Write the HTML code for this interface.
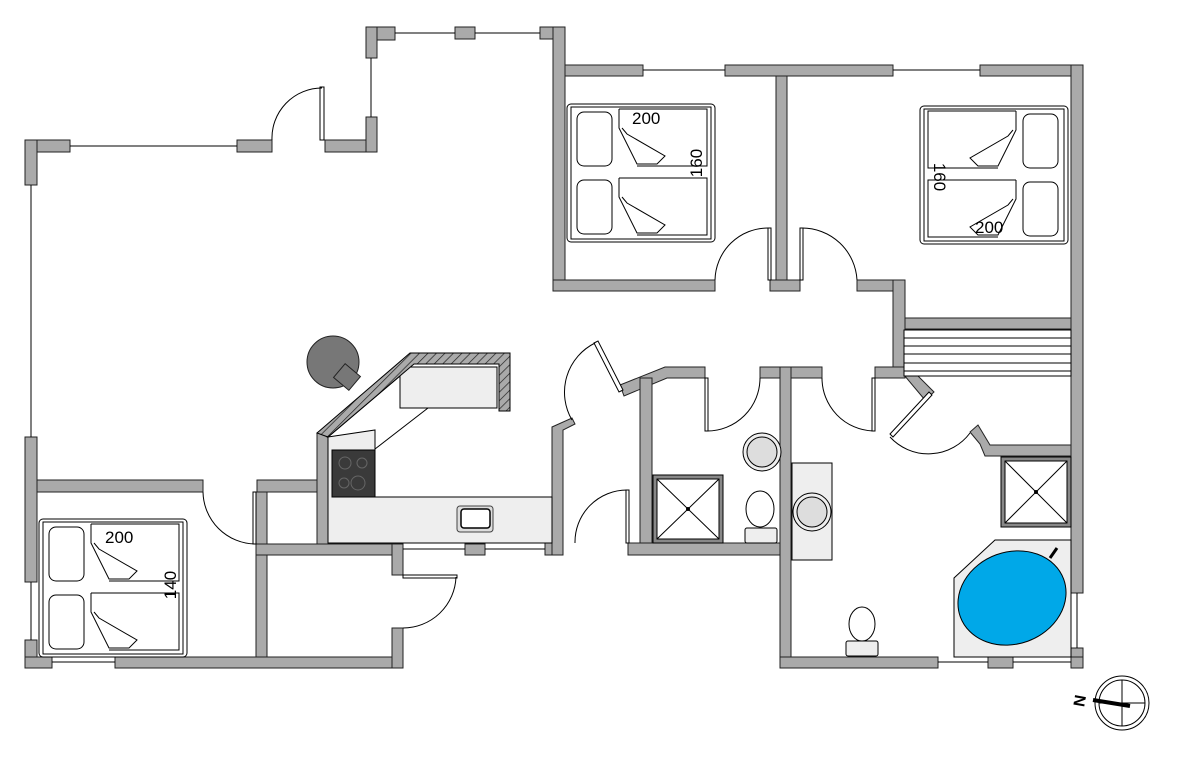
<!DOCTYPE html>
<html><head><meta charset="utf-8"><style>html,body{margin:0;padding:0;background:#fff}svg{display:block}</style></head>
<body>
<svg width="1179" height="766" viewBox="0 0 1179 766" xmlns="http://www.w3.org/2000/svg" font-family="Liberation Sans, sans-serif">
<defs>
<pattern id="h" width="6" height="6" patternUnits="userSpaceOnUse" patternTransform="rotate(45)"><rect width="6" height="6" fill="#aaa"/><line x1="0" y1="0" x2="0" y2="6" stroke="#222" stroke-width="1.4"/></pattern>
<g id="bed">
<rect x="0" y="0" width="148" height="138" rx="4" fill="#fff" stroke="#000"/>
<rect x="4" y="3" width="140" height="132" fill="#fff" stroke="#000"/>
<rect x="10" y="8" width="35" height="54" rx="7" fill="#fff" stroke="#000"/>
<rect x="10" y="76" width="35" height="54" rx="7" fill="#fff" stroke="#000"/>
<path d="M52 5 V24 L70 60 L90 60 L98 52 L60 30 L55 24 M52 5 H140 V62 H70" fill="none" stroke="#000"/>
<path d="M52 74 V93 L70 129 L90 129 L98 121 L60 99 L55 93 M52 74 H140 V131 H70" fill="none" stroke="#000"/>
</g>
</defs>
<g fill="#aaa" stroke="#222" stroke-width="1">
<rect x="25" y="140" width="45" height="12"/><rect x="25" y="140" width="12" height="45"/>
<rect x="237" y="140" width="35" height="12"/>
<rect x="325" y="140" width="52" height="12"/><rect x="366" y="117" width="11" height="35"/>
<rect x="366" y="27" width="29" height="13"/><rect x="366" y="27" width="11" height="31"/>
<rect x="455" y="27" width="20" height="12"/>
<rect x="540" y="27" width="25" height="12"/>
<rect x="25" y="437" width="12" height="145"/><rect x="25" y="640" width="12" height="28"/>
<rect x="25" y="657" width="27" height="11"/><rect x="115" y="657" width="288" height="11"/>
<rect x="37" y="480" width="166" height="12"/><rect x="257" y="480" width="61" height="12"/>
<rect x="256" y="492" width="11" height="165"/>
<rect x="256" y="544" width="147" height="11"/>
<rect x="392" y="544" width="11" height="31"/><rect x="392" y="628" width="11" height="40"/>
<rect x="317" y="433" width="11" height="111"/>
<rect x="465" y="544" width="20" height="11"/>
<rect x="545" y="543" width="18" height="12"/>
<polygon points="552,555 563,555 563,430 575,424 572,418 552,427"/>
<polygon points="620,385 665,367 705,367 705,378 667,378 624,396"/>
<rect x="640" y="378" width="12" height="177"/>
<rect x="628" y="543" width="163" height="12"/>
<rect x="760" y="367" width="62" height="11"/>
<rect x="780" y="367" width="11" height="301"/>
<rect x="553" y="27" width="12" height="264"/>
<rect x="565" y="65" width="78" height="11"/><rect x="725" y="65" width="168" height="11"/><rect x="980" y="65" width="103" height="11"/>
<rect x="776" y="76" width="11" height="215"/>
<rect x="553" y="280" width="162" height="11"/><rect x="770" y="280" width="30" height="11"/><rect x="857" y="280" width="48" height="11"/>
<rect x="893" y="280" width="12" height="98"/>
<rect x="875" y="367" width="30" height="11"/>
<rect x="1071" y="65" width="12" height="528"/><rect x="1071" y="648" width="12" height="20"/>
<rect x="905" y="318" width="166" height="11"/>
<polygon points="904,362 904,375 925,400 934,392"/>
<polygon points="970,432 980,444 985,456 1071,456 1071,445 990,445 978,425"/>
<rect x="780" y="657" width="158" height="11"/><rect x="988" y="657" width="25" height="11"/><rect x="1071" y="657" width="12" height="11"/>
</g>
<g stroke="#000" stroke-width="1" fill="none">
<line x1="70" y1="146" x2="237" y2="146"/><line x1="31" y1="185" x2="31" y2="437"/><line x1="31" y1="582" x2="31" y2="640"/>
<line x1="371" y1="58" x2="371" y2="117"/><line x1="395" y1="33" x2="455" y2="33"/><line x1="475" y1="33" x2="540" y2="33"/>
<line x1="643" y1="70" x2="725" y2="70"/><line x1="893" y1="70" x2="980" y2="70"/>
<line x1="52" y1="662" x2="115" y2="662"/><line x1="403" y1="549" x2="465" y2="549"/><line x1="485" y1="549" x2="545" y2="549"/>
<line x1="938" y1="662" x2="988" y2="662"/><line x1="1013" y1="662" x2="1071" y2="662"/><line x1="1077" y1="593" x2="1077" y2="648"/>
</g>
<g stroke="#000" stroke-width="1" fill="#fff">
<rect x="320" y="87" width="4" height="53"/><path d="M272 140 A50 50 0 0 1 322 88" fill="none"/>
<rect x="768" y="228" width="3" height="52"/><path d="M715 280 A53 53 0 0 1 768 228" fill="none"/>
<rect x="800" y="228" width="3" height="52"/><path d="M857 280 A55 55 0 0 0 802 228" fill="none"/>
<rect x="253" y="492" width="3" height="52"/><path d="M203 492 A53 53 0 0 0 255 544" fill="none"/>
<rect x="403" y="575" width="54" height="3"/><path d="M403 628 A53 53 0 0 0 456 577" fill="none"/>
<polygon points="594,343 598,341 623,390 619,392"/><path d="M572 420 A55 55 0 0 1 595 343" fill="none"/>
<rect x="626" y="490" width="3" height="53"/><path d="M575 543 A52 52 0 0 1 627 490" fill="none"/>
<rect x="705" y="378" width="3" height="53"/><path d="M760 378 A53 53 0 0 1 707 431" fill="none"/>
<rect x="872" y="378" width="3" height="53"/><path d="M822 378 A53 53 0 0 0 873 431" fill="none"/>
<polygon points="929,392 932,395 893,437 890,434"/><path d="M890 437 A52 52 0 0 0 970 433" fill="none"/>
</g>
<g stroke="#000" fill="none"><rect x="904" y="330" width="167" height="46" fill="#fff"/>
<line x1="904" y1="338" x2="1071" y2="338"/><line x1="904" y1="346" x2="1071" y2="346"/><line x1="904" y1="354" x2="1071" y2="354"/><line x1="904" y1="363" x2="1071" y2="363"/><line x1="904" y1="371" x2="1071" y2="371"/></g>
<use href="#bed" x="567" y="104"/>
<use href="#bed" transform="translate(1068,106) scale(-1,1)"/>
<use href="#bed" x="39" y="519"/>
<text x="632" y="124" font-size="17">200</text>
<text x="975" y="233" font-size="17">200</text>
<text x="105" y="543" font-size="17">200</text>
<text transform="translate(702,163) rotate(-90)" font-size="17" text-anchor="middle">160</text>
<text transform="translate(934,177) rotate(90)" font-size="17" text-anchor="middle">160</text>
<text transform="translate(176,585) rotate(-90)" font-size="17" text-anchor="middle">140</text>
<polygon points="328,437 400,376 400,408 497,408 497,367 410,367 328,437 328,543 552,543 552,497 375,497 375,430" fill="#eee" stroke="#000"/>
<rect x="400" y="367" width="97" height="41" fill="#eee" stroke="#000"/>
<line x1="375" y1="449" x2="428" y2="408" stroke="#000"/>
<polygon points="317,433 410,353 510,353 510,411 499,411 499,364 414,364 328,437" fill="url(#h)" stroke="#000"/>
<rect x="332" y="450" width="43" height="47" fill="#3a3a3a" stroke="#000"/>
<g fill="none" stroke="#666"><circle cx="345" cy="463" r="6"/><circle cx="362" cy="463" r="5"/><circle cx="344" cy="483" r="5"/><circle cx="358" cy="483" r="7"/></g>
<rect x="457" y="506" width="36" height="26" rx="3" fill="#ddd" stroke="#444"/><rect x="461" y="509" width="29" height="19" rx="3" fill="#fff" stroke="#000" stroke-width="1.5"/>
<circle cx="333" cy="362" r="26" fill="#777" stroke="#222"/>
<rect x="337" y="368" width="20" height="18" fill="#777" stroke="#222" transform="rotate(40 347 377)"/>
<rect x="653" y="475" width="70" height="68" fill="#888" stroke="#000"/><rect x="657" y="479" width="62" height="60" fill="#fff" stroke="#000"/>
<path d="M657 479 L719 539 M719 479 L657 539" stroke="#000"/><circle cx="688" cy="509" r="2"/>
<circle cx="762" cy="452" r="19" fill="#eee" stroke="#000"/><circle cx="762" cy="452" r="15" fill="#ddd" stroke="#000"/>
<ellipse cx="760" cy="509" rx="14" ry="18" fill="#fff" stroke="#000"/><rect x="745" y="528" width="32" height="15" rx="2" fill="#eee" stroke="#000"/>
<rect x="792" y="463" width="40" height="97" fill="#eee" stroke="#000"/>
<circle cx="812" cy="512" r="19" fill="#eee" stroke="#000"/><circle cx="812" cy="512" r="15" fill="#ddd" stroke="#000"/>
<ellipse cx="862" cy="624" rx="13" ry="17" fill="#fff" stroke="#000"/><rect x="846" y="641" width="32" height="15" rx="2" fill="#eee" stroke="#000"/>
<rect x="1001" y="457" width="70" height="70" fill="#888" stroke="#000"/><rect x="1005" y="461" width="62" height="62" fill="#fff" stroke="#000"/>
<path d="M1005 461 L1067 523 M1067 461 L1005 523" stroke="#000"/><circle cx="1036" cy="492" r="2"/>
<polygon points="995,540 1071,540 1071,657 954,657 954,578" fill="#eee" stroke="#000"/>
<ellipse cx="1012" cy="598" rx="55" ry="46" fill="#00a8e8" stroke="#000" transform="rotate(-20 1012 598)"/>
<line x1="1050" y1="558" x2="1057" y2="548" stroke="#000" stroke-width="3"/>
<circle cx="1122" cy="703" r="27" fill="#fff" stroke="#000"/><circle cx="1122" cy="703" r="23" fill="none" stroke="#000"/>
<line x1="1099" y1="703" x2="1145" y2="703" stroke="#000"/><line x1="1122" y1="680" x2="1122" y2="726" stroke="#000"/>
<line x1="1093" y1="700" x2="1130" y2="706" stroke="#000" stroke-width="4"/>
<text x="1073" y="708" font-size="16" font-weight="bold" transform="rotate(100 1080 702)">N</text>
</svg>
</body></html>
